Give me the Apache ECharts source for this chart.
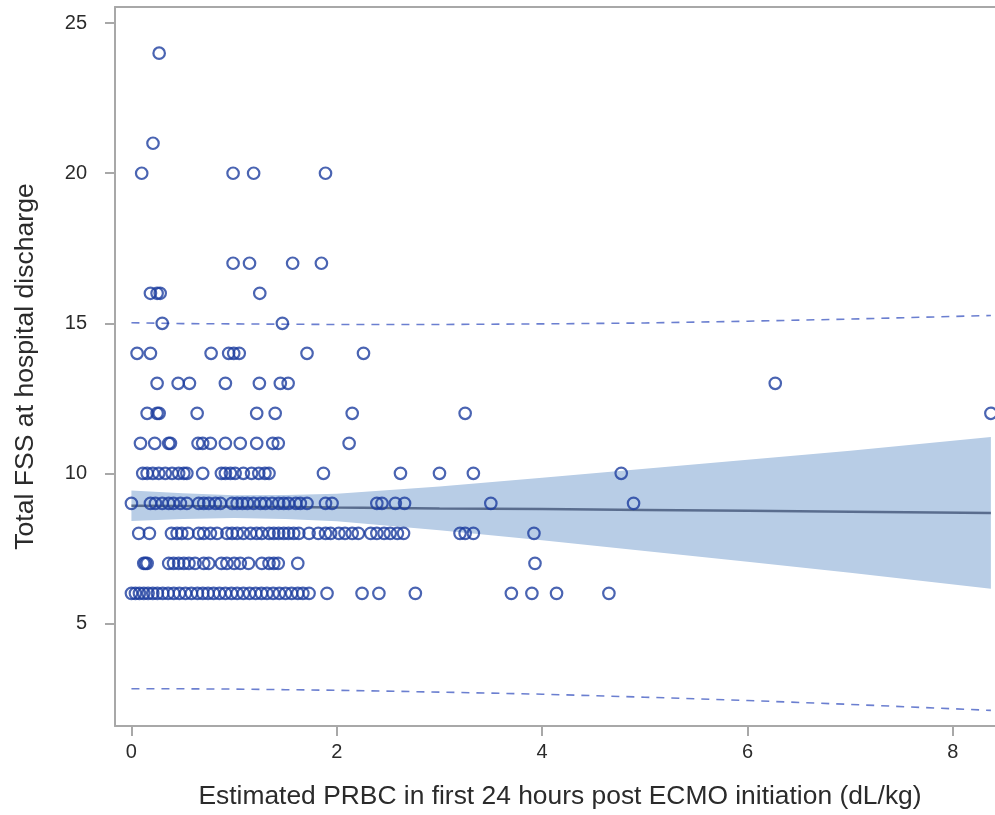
<!DOCTYPE html>
<html><head><meta charset="utf-8">
<script src="https://cdn.jsdelivr.net/npm/echarts@6/dist/echarts.min.js"></script>
<style>html,body{margin:0;padding:0;background:#fff}#c{width:995px;height:815px}</style>
</head><body><div id="c"></div>
<script>
// Scatter points: x values (PRBC dL/kg) grouped by Total FSS score
const fss24 = [0.27];
const fss21 = [0.21];
const fss20 = [0.10, 0.99, 1.19, 1.89];
const fss17 = [0.99, 1.15, 1.57, 1.85];
const fss16 = [0.185, 0.25, 0.28, 1.25];
const fss15 = [0.30, 1.47];
const fss14 = [0.055, 0.185, 0.776, 0.947, 0.996, 1.05, 1.71, 2.26];
const fss13 = [0.25, 0.455, 0.565, 0.915, 1.246, 1.45, 1.526, 6.27];
const fss12 = [0.153, 0.25, 0.27, 0.64, 1.22, 1.40, 2.15, 3.25, 8.37];
const fss11 = [0.088, 0.227, 0.363, 0.38, 0.649, 0.694, 0.769, 0.915, 1.06, 1.22, 1.376, 1.43, 2.12];
const fss10 = [0.11, 0.153, 0.208, 0.266, 0.33, 0.396, 0.46, 0.51, 0.54, 0.694, 0.876, 0.915, 0.964, 1.01, 1.09, 1.17, 1.24, 1.30, 1.34, 1.87, 2.62, 3.0, 3.33, 4.77];
const fss9 = [0.0, 0.185, 0.234, 0.30, 0.363, 0.41, 0.477, 0.54, 0.655, 0.704, 0.753, 0.818, 0.867, 0.98, 1.03, 1.08, 1.13, 1.19, 1.256, 1.305, 1.37, 1.434, 1.483, 1.53, 1.60, 1.645, 1.71, 1.89, 1.954, 2.39, 2.44, 2.57, 2.66, 3.50, 4.89];
const fss8 = [0.071, 0.175, 0.39, 0.445, 0.49, 0.55, 0.655, 0.704, 0.769, 0.834, 0.93, 0.98, 1.03, 1.09, 1.16, 1.22, 1.27, 1.34, 1.386, 1.434, 1.483, 1.53, 1.58, 1.63, 1.73, 1.82, 1.89, 1.94, 2.02, 2.08, 2.15, 2.21, 2.33, 2.39, 2.46, 2.52, 2.59, 2.65, 3.20, 3.25, 3.33, 3.92];
const fss7 = [0.12, 0.136, 0.153, 0.363, 0.41, 0.46, 0.51, 0.56, 0.62, 0.704, 0.753, 0.876, 0.93, 1.0, 1.06, 1.14, 1.27, 1.34, 1.386, 1.43, 1.62, 3.93];
const fss6 = [0.0, 0.039, 0.078, 0.12, 0.162, 0.208, 0.253, 0.305, 0.357, 0.412, 0.467, 0.526, 0.584, 0.643, 0.695, 0.746, 0.80, 0.857, 0.915, 0.974, 1.03, 1.09, 1.15, 1.21, 1.266, 1.32, 1.38, 1.44, 1.50, 1.56, 1.62, 1.67, 1.73, 1.905, 2.246, 2.41, 2.765, 3.70, 3.90, 4.14, 4.65];

// Regression fit, 95% confidence band and prediction limits
const lineX     = [0, 0.5, 1, 1.5, 2, 3, 4, 5, 6, 7, 8.37];
const fitY      = [8.92, 8.91, 8.89, 8.88, 8.86, 8.83, 8.81, 8.78, 8.75, 8.72, 8.68];
const clmUpper  = [9.43, 9.34, 9.27, 9.28, 9.32, 9.56, 9.85, 10.15, 10.45, 10.75, 11.21];
const clmLower  = [8.41, 8.48, 8.51, 8.48, 8.40, 8.10, 7.77, 7.41, 7.05, 6.69, 6.15];
const predUpper = [15.02, 14.99, 14.98, 14.97, 14.96, 14.96, 14.98, 15.01, 15.07, 15.14, 15.26];
const predLower = [2.82, 2.82, 2.81, 2.79, 2.77, 2.71, 2.64, 2.54, 2.43, 2.30, 2.10];

const xTicks = [0, 2, 4, 6, 8];
const yTicks = [5, 10, 15, 20, 25];

const rows = [[6, fss6], [7, fss7], [8, fss8], [9, fss9], [10, fss10], [11, fss11], [12, fss12],
  [13, fss13], [14, fss14], [15, fss15], [16, fss16], [17, fss17], [20, fss20], [21, fss21], [24, fss24]];
const points = [];
rows.forEach(([y, xs]) => xs.forEach(x => points.push([x, y])));

const zip = (xs, ys) => xs.map((x, i) => [x, ys[i]]);

const FONT = '"Liberation Sans", Arial, sans-serif';
const AXC = '#a8a8a8';
const TXT = '#2b2b2b';
const chart = echarts.init(document.getElementById('c'));
chart.setOption({
  animation: false,
  grid: { left: 115, right: 0, top: 7, bottom: 89 },
  xAxis: [{
    type: 'value', min: -0.16, max: 8.41,
    axisLine: { show: true, onZero: false, lineStyle: { color: AXC, width: 2 } },
    axisTick: { show: true, length: 10, customValues: xTicks, lineStyle: { color: AXC, width: 2 } },
    axisLabel: { customValues: xTicks, margin: 16, color: TXT, fontSize: 20, fontFamily: FONT },
    splitLine: { show: false },
    name: 'Estimated PRBC in first 24 hours post ECMO initiation (dL/kg)',
    nameLocation: 'middle', nameGap: 58,
    nameTextStyle: { color: TXT, fontSize: 26.4, fontFamily: FONT, padding: [0, 0, 0, 10] }
  }, {
    type: 'value', position: 'top', min: -0.16, max: 8.41,
    axisLine: { show: true, onZero: false, lineStyle: { color: AXC, width: 2 } },
    axisTick: { show: false }, axisLabel: { show: false }, splitLine: { show: false }
  }],
  yAxis: {
    type: 'value', min: 1.58, max: 25.54,
    axisLine: { show: true, onZero: false, lineStyle: { color: AXC, width: 2 } },
    axisTick: { show: true, length: 10, customValues: yTicks, lineStyle: { color: AXC, width: 2 } },
    axisLabel: { customValues: yTicks, margin: 28, color: TXT, fontSize: 20, fontFamily: FONT },
    splitLine: { show: false },
    name: 'Total FSS at hospital discharge',
    nameLocation: 'middle', nameGap: 76,
    nameTextStyle: { color: TXT, fontSize: 26.6, fontFamily: FONT }
  },
  series: [
    {
      type: 'custom', z: 1, silent: true,
      data: [[lineX[0], fitY[0]]],
      renderItem: function (params, api) {
        const pts = [];
        for (let i = 0; i < lineX.length; i++) pts.push(api.coord([lineX[i], clmUpper[i]]));
        for (let i = lineX.length - 1; i >= 0; i--) pts.push(api.coord([lineX[i], clmLower[i]]));
        return { type: 'polygon', shape: { points: pts }, style: { fill: '#b8cde6' } };
      }
    },
    {
      type: 'line', z: 2, symbol: 'none', data: zip(lineX, fitY),
      lineStyle: { color: '#5a6d8e', width: 2.5 }
    },
    {
      type: 'line', z: 2, symbol: 'none', data: zip(lineX, predUpper),
      lineStyle: { color: '#6b7fd0', width: 1.6, type: [8, 7] }
    },
    {
      type: 'line', z: 2, symbol: 'none', data: zip(lineX, predLower),
      lineStyle: { color: '#6b7fd0', width: 1.6, type: [8, 7] }
    },
    {
      type: 'scatter', z: 3, data: points, symbol: 'circle', symbolSize: 11.5,
      itemStyle: { color: 'rgba(255,255,255,0)', borderColor: '#1d3d9f', borderWidth: 2.2 }
    }
  ]
});
</script></body></html>
